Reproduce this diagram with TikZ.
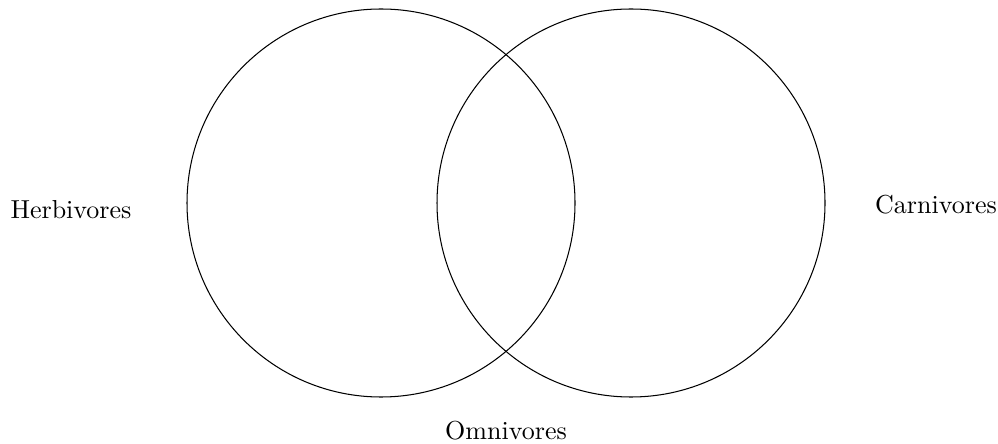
\documentclass[tikz,border=0pt]{standalone}
\usepackage{tikz}
\usetikzlibrary{positioning}

\begin{document}
\begin{tikzpicture}[x=0.3846pt,y=0.3846pt]
  \useasboundingbox (0,0) rectangle (998,443);

  \draw (381,240) circle[radius=194];
  \draw (631,240) circle[radius=194];

  \node (herb) at (71,233) {Herbivores};
  \node (carn) at (936,238) {Carnivores};
  \node (omni) at (506,12) {Omnivores};
\end{tikzpicture}
\end{document}
